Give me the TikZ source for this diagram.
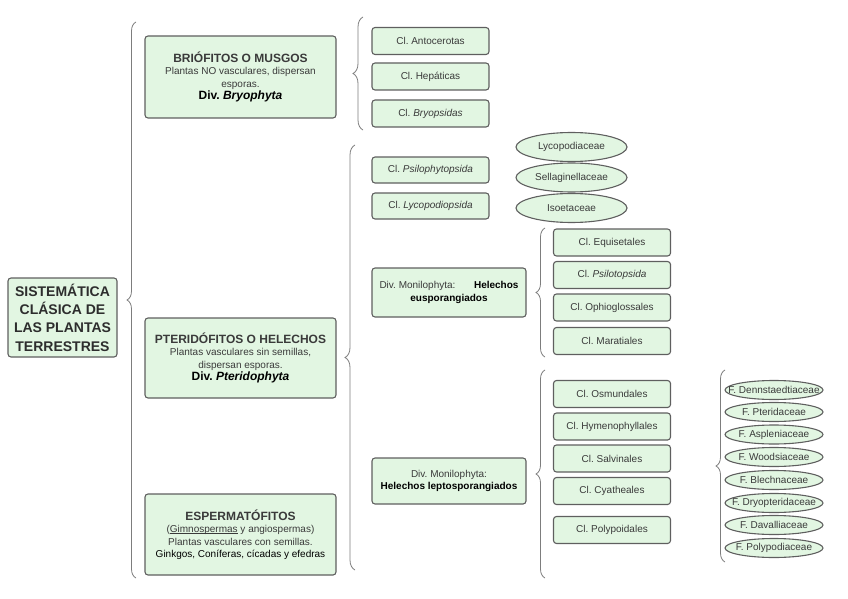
\documentclass[tikz,border=0pt]{standalone}
\usepackage{fontspec}
\setmainfont{Liberation Sans}
\usepackage{xcolor}
\usepackage{tikz}
\usetikzlibrary{positioning}
\usetikzlibrary{shapes.geometric}
\usetikzlibrary{decorations.pathreplacing}
\definecolor{cajaverde}{RGB}{226,246,226}
\definecolor{borde}{RGB}{95,95,95}
\definecolor{texto}{RGB}{58,58,58}
\definecolor{gris}{RGB}{125,125,125}
\newcommand{\ftxt}[1]{\makebox[0pt]{#1}}
\newcommand{\subr}[1]{\setbox0\hbox{#1}\rlap{\rule[-1.6pt]{\wd0}{0.7pt}}\box0\relax}
\frenchspacing

\begin{document}
\begin{tikzpicture}[x=1pt,y=-1pt,
  caja/.style={draw=borde,fill=cajaverde,line width=1.1pt,rounded corners=3pt,inner sep=0pt,align=center,text=texto,font=\fontsize{10}{12.5}\selectfont},
  division/.style={caja,minimum width=191pt},
  clase/.style={caja,minimum width=117pt,minimum height=27pt},
  familia/.style={ellipse,draw=borde,fill=cajaverde,line width=1.1pt,inner sep=0pt,text=texto,font=\fontsize{10}{12}\selectfont,minimum width=98pt,minimum height=19pt},
  llave/.style={draw=gris,line width=0.8pt,decorate,decoration={brace,amplitude=#1}}]
\useasboundingbox (0,0) rectangle (848,599);
%raiz
\node[caja,minimum width=109pt,minimum height=79pt,text={rgb,255:red,45;green,45;blue,45},font=\fontsize{14}{18.3}\selectfont\bfseries] (raiz) at (62.5,317.5) {SISTEMÁTICA\\CLÁSICA DE\\LAS PLANTAS\\TERRESTRES};
\coordinate (l1a) at (136,578);
\coordinate (l1b) at (136,22);
\draw[llave=9pt] (l1a)--(l1b);
%divisiones
\node[division,minimum height=82pt] (bryo) at (240.5,77) {{\fontsize{12}{14}\selectfont\bfseries BRIÓFITOS O MUSGOS}\\Plantas NO vasculares, dispersan\\esporas.\\{\fontsize{12}{14}\selectfont\bfseries\color{black}Div. \itshape Bryophyta}};
\node[division,minimum height=80pt] (pteri) at (240.5,358) {{\fontsize{12}{14}\selectfont\bfseries PTERIDÓFITOS O HELECHOS}\\Plantas vasculares sin semillas,\\dispersan esporas.\\{\fontsize{12}{14}\selectfont\bfseries\color{black}Div. \itshape Pteridophyta}};
\node[division,minimum height=81pt] (esper) at (240.5,534.5) {{\fontsize{12}{14}\selectfont\bfseries ESPERMATÓFITOS}\\(\subr{Gimnospermas} y angiospermas)\\Plantas vasculares con semillas.\\{\color{black}Ginkgos, Coníferas, cícadas y efedras}};
%Bryophyta
\coordinate (l2a) at (363,130);
\coordinate (l2b) at (363,17);
\draw[llave=10pt] (l2a)--(l2b);
\node[clase] (anto) at (430.5,41) {Cl. Antocerotas};
\node[clase] (hepa) at (430.5,76.5) {Cl. Hepáticas};
\node[clase] (bryops) at (430.5,113.5) {Cl. \textit{Bryopsidas}};
%Pteridophyta
\coordinate (l3a) at (355,570);
\coordinate (l3b) at (355,145);
\draw[llave=10pt] (l3a)--(l3b);
\node[clase,minimum height=26pt] (psilo) at (430.5,170) {Cl. \textit{Psilophytopsida}};
\node[clase,minimum height=26pt] (lyco) at (430.5,206) {Cl. \textit{Lycopodiopsida}};
\node[familia,minimum width=111pt,minimum height=29pt] (lycof) at (571.5,147) {\ftxt{Lycopodiaceae}};
\node[familia,minimum width=111pt,minimum height=29pt] (sella) at (571.5,177.5) {\ftxt{Sellaginellaceae}};
\node[familia,minimum width=111pt,minimum height=29pt] (isoe) at (571.5,208) {\ftxt{Isoetaceae}};
%eusporangiados
\node[caja,minimum width=154pt,minimum height=49pt] (eusp) at (449,292.5) {\makebox[139pt]{Div. Monilophyta:\hfill\textbf{\color{black}Helechos}}\\\textbf{\color{black}eusporangiados}};
\coordinate (l4a) at (545,357);
\coordinate (l4b) at (545,228);
\draw[llave=9pt] (l4a)--(l4b);
\node[clase] (equi) at (612,242.5) {Cl. Equisetales};
\node[clase] (psilot) at (612,275) {Cl. \textit{Psilotopsida}};
\node[clase] (ophio) at (612,307.5) {Cl. Ophioglossales};
\node[clase] (mara) at (612,341) {Cl. Maratiales};
%leptosporangiados
\node[caja,minimum width=154pt,minimum height=46pt] (lepto) at (449,481) {Div. Monilophyta:\\\textbf{\color{black}Helechos leptosporangiados}};
\coordinate (l5a) at (545,578);
\coordinate (l5b) at (545,370);
\draw[llave=9pt] (l5a)--(l5b);
\node[clase] (osmu) at (612,394) {Cl. Osmundales};
\node[clase] (hyme) at (612,426.5) {Cl. Hymenophyllales};
\node[clase] (salv) at (612,458.5) {Cl. Salvinales};
\node[clase] (cyat) at (612,491) {Cl. Cyatheales};
\node[clase] (poly) at (612,530) {Cl. Polypoidales};
%familias
\coordinate (l6a) at (725,562);
\coordinate (l6b) at (725,370);
\draw[llave=9pt] (l6a)--(l6b);
\node[familia] (denn) at (774,390) {\ftxt{F. Dennstaedtiaceae}};
\node[familia] (pter) at (774,412) {\ftxt{F. Pteridaceae}};
\node[familia] (aspl) at (774,434.5) {\ftxt{F. Aspleniaceae}};
\node[familia] (wood) at (774,457) {\ftxt{F. Woodsiaceae}};
\node[familia] (blec) at (774,480) {\ftxt{F. Blechnaceae}};
\node[familia] (dryo) at (774,503) {\ftxt{F. Dryopteridaceae}};
\node[familia] (dava) at (774,525) {\ftxt{F. Davalliaceae}};
\node[familia] (polyf) at (774,548) {\ftxt{F. Polypodiaceae}};
\end{tikzpicture}
\end{document}
